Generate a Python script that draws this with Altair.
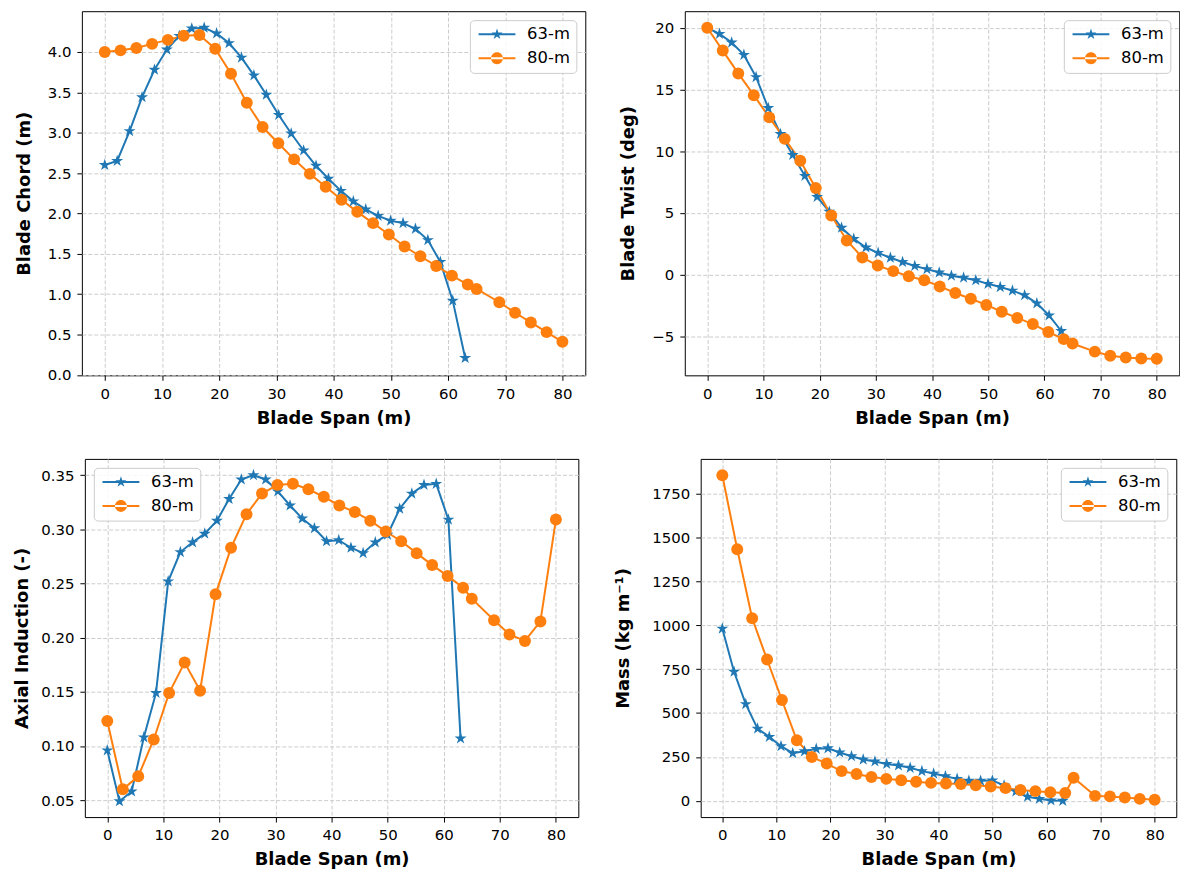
import math
import pandas as pd
import altair as alt

# ---------------- data ----------------
series_names = ["63-m", "80-m"]
series_colors = ["#1f77b4", "#ff7f0e"]

span63 = [0.0, 2.17, 4.34, 6.52, 8.69, 10.86, 13.03, 15.21, 17.38, 19.55,
          21.72, 23.9, 26.07, 28.24, 30.41, 32.59, 34.76, 36.93, 39.1, 41.28,
          43.45, 45.62, 47.79, 49.97, 52.14, 54.31, 56.48, 58.66, 60.83, 63.0]
span80 = [0.0, 2.76, 5.52, 8.28, 11.03, 13.79, 16.55, 19.31, 22.07, 24.83,
          27.59, 30.34, 33.1, 35.86, 38.62, 41.38, 44.14, 46.9, 49.66, 52.41,
          55.17, 57.93, 60.69, 63.45, 65.0, 68.97, 71.72, 74.48, 77.24, 80.0]

chord63 = [2.60, 2.65, 3.02, 3.44, 3.78, 4.03, 4.20, 4.29, 4.30, 4.23,
           4.11, 3.93, 3.71, 3.47, 3.22, 2.99, 2.78, 2.59, 2.43, 2.28,
           2.15, 2.05, 1.97, 1.91, 1.88, 1.81, 1.67, 1.40, 0.92, 0.21]
chord80 = [4.00, 4.02, 4.05, 4.10, 4.15, 4.20, 4.21, 4.04, 3.73, 3.37,
           3.07, 2.87, 2.67, 2.49, 2.33, 2.17, 2.02, 1.88, 1.74, 1.59,
           1.47, 1.35, 1.23, 1.12, 1.065, 0.90, 0.77, 0.65, 0.53, 0.41]

twist63 = [20.0, 19.5, 18.8, 17.8, 16.0, 13.5, 11.4, 9.7, 8.0, 6.3,
           5.1, 3.8, 2.9, 2.2, 1.77, 1.37, 1.03, 0.71, 0.45, 0.18,
           -0.08, -0.24, -0.45, -0.74, -1.0, -1.29, -1.66, -2.32, -3.30, -4.56]
twist80 = [20.0, 18.15, 16.3, 14.54, 12.74, 11.0, 9.23, 7.02, 4.8, 2.77,
           1.40, 0.74, 0.29, -0.13, -0.45, -0.95, -1.48, -1.95, -2.45, -3.0,
           -3.5, -4.0, -4.64, -5.22, -5.57, -6.23, -6.57, -6.70, -6.78, -6.81]

axial63 = [0.096, 0.049, 0.058, 0.108, 0.149, 0.252, 0.279, 0.288, 0.296, 0.308,
           0.328, 0.346, 0.350, 0.346, 0.335, 0.322, 0.310, 0.301, 0.289, 0.290,
           0.283, 0.278, 0.288, 0.295, 0.319, 0.333, 0.341, 0.342, 0.309, 0.107]
axial80 = [0.123, 0.060, 0.072, 0.106, 0.149, 0.177, 0.151, 0.240, 0.283, 0.314,
           0.333, 0.341, 0.342, 0.337, 0.330, 0.322, 0.316, 0.308, 0.298, 0.289,
           0.278, 0.267, 0.257, 0.246, 0.236, 0.216, 0.203, 0.197, 0.215, 0.309]

mass63 = [981, 735, 551, 411, 364, 311, 271, 282, 296, 299,
          275, 254, 235, 224, 210, 201, 188, 169, 155, 140,
          125, 114, 114, 116, 87, 53, 23, 11, 2, 0]
mass80 = [1855, 1433, 1040, 805, 574, 345, 250, 212, 169, 153,
          135, 125, 117, 108, 102, 98, 95, 89, 81, 72,
          61, 55, 49, 44, 131, 28, 25, 19, 11, 6]

span_ticks = [0, 10, 20, 30, 40, 50, 60, 70, 80]
chord_ticks = [0.0, 0.5, 1.0, 1.5, 2.0, 2.5, 3.0, 3.5, 4.0]
twist_ticks = [-5, 0, 5, 10, 15, 20]
axial_ticks = [0.05, 0.10, 0.15, 0.20, 0.25, 0.30, 0.35]
mass_ticks = [0, 250, 500, 750, 1000, 1250, 1500, 1750]

# ---------------- marker shapes ----------------
def star_path(scale):
    pts = []
    for k in range(10):
        a = math.radians(-90 + 36 * k)
        r = scale if k % 2 == 0 else scale * 0.382
        pts.append(f"{r*math.cos(a):.4f},{r*math.sin(a):.4f}")
    return "M" + " L".join(pts) + " Z"

def circle_path(r):
    return f"M{-r},0 A{r},{r} 0 1,0 {r},0 A{r},{r} 0 1,0 {-r},0 Z"

line_seg = "M-3.7,-0.2 L3.7,-0.2 L3.7,0.2 L-3.7,0.2 Z"
STAR = star_path(1.0)
LEG_STAR = line_seg + " " + star_path(1.15)
LEG_CIRCLE = line_seg + " " + circle_path(1.2)


def make_df(y63, y80):
    rows = []
    for xv, yv in zip(span63, y63):
        rows.append({"x": xv, "y": yv, "series": "63-m"})
    for xv, yv in zip(span80, y80):
        rows.append({"x": xv, "y": yv, "series": "80-m"})
    return pd.DataFrame(rows)


def panel(y63, y80, ytitle, ydomain, yticks, yfmt, legend_orient, width, height, tpad):
    df = make_df(y63, y80)
    base = alt.Chart(df)
    x = alt.X("x:Q",
              scale=alt.Scale(domain=[-4, 84], nice=False, zero=False),
              axis=alt.Axis(values=span_ticks, format="d", title="Blade Span (m)"))
    y = alt.Y("y:Q",
              scale=alt.Scale(domain=ydomain, nice=False, zero=False),
              axis=alt.Axis(values=yticks, format=yfmt, title=ytitle, titlePadding=tpad))
    cscale = alt.Scale(domain=series_names, range=series_colors)
    leg = alt.Legend(title=None, orient=legend_orient, offset=9, padding=6,
                     rowPadding=7, fillColor="rgba(255,255,255,0.85)",
                     strokeColor="#cccccc", cornerRadius=4,
                     labelFontSize=16.5, labelColor="black", labelFont="DejaVu Sans",
                     symbolSize=100, symbolOffset=13, labelOffset=22,
                     symbolStrokeWidth=0)

    b63 = base.transform_filter(alt.datum.series == "63-m")
    b80 = base.transform_filter(alt.datum.series == "80-m")
    l63 = b63.mark_line(strokeWidth=2, color=series_colors[0]).encode(x=x, y=y)
    l80 = b80.mark_line(strokeWidth=2, color=series_colors[1]).encode(x=x, y=y)
    p63 = b63.mark_point(filled=True, shape=STAR, size=160, opacity=1,
                         color=series_colors[0]).encode(x=x, y=y)
    p80 = b80.mark_point(filled=True, shape="circle", size=144, opacity=1,
                         color=series_colors[1]).encode(x=x, y=y)
    legend_layer = base.transform_filter("false").mark_point(
        filled=True, opacity=1).encode(
        x=x, y=y,
        color=alt.Color("series:N", scale=cscale, legend=leg),
        shape=alt.Shape("series:N",
                        scale=alt.Scale(domain=series_names, range=[LEG_STAR, LEG_CIRCLE]),
                        legend=leg))
    return alt.layer(l63, l80, p63, p80, legend_layer).properties(width=width, height=height)


p1 = panel(chord63, chord80, "Blade Chord (m)", [-0.005, 4.505], chord_ticks, ".1f",
           "top-right", 506, 366, 14)
p2 = panel(twist63, twist80, "Blade Twist (deg)", [-8.15, 21.34], twist_ticks, "d",
           "top-right", 497, 366, 14)
p3 = panel(axial63, axial80, "Axial Induction (-)", [0.0344, 0.365], axial_ticks, ".2f",
           "top-left", 496, 360, 9)
p4 = panel(mass63, mass80, "Mass (kg m\u207b\u00b9)", [-92.75, 1947.75], mass_ticks, "d",
           "top-right", 478, 360, 19)


def indep(c):
    return c.resolve_scale(color="independent", shape="independent").resolve_legend(
        color="independent", shape="independent")


row1 = indep(alt.hconcat(p1, p2, spacing=33))
row2 = indep(alt.hconcat(p3, p4, spacing=35))

chart = indep(alt.vconcat(row1, row2, spacing=30, center=True)).properties(
    padding={"left": 5, "top": 0, "right": 0, "bottom": 0}
).configure(
    font="DejaVu Sans",
).configure_view(
    stroke="black", strokeWidth=1
).configure_axis(
    grid=True, gridColor="#cccccc", gridDash=[4, 2], gridWidth=1,
    domain=False, ticks=True, tickColor="black", tickSize=5, tickWidth=1,
    labelFont="DejaVu Sans", labelFontSize=15, labelColor="black", labelPadding=6,
    labelFlush=False, labelOverlap=False,
    titleFont="DejaVu Sans", titleFontSize=18, titleFontWeight="bold",
    titleColor="black", titlePadding=8,
)

chart.save("out.html", embed_options={"renderer": "svg", "actions": False})
